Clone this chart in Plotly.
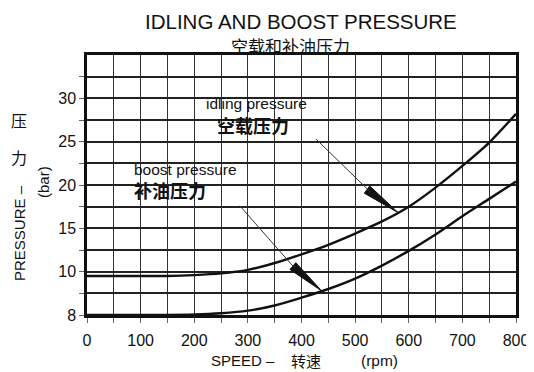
import numpy as np
import plotly.graph_objects as go

# ---------------- data ----------------
speed_rpm = [0, 50, 100, 150, 200, 250, 300, 350, 400, 450, 500, 550, 600, 650, 700, 750, 800]
idling_bar = [9.5, 9.5, 9.5, 9.5, 9.6, 9.8, 10.2, 11.0, 12.0, 13.1, 14.4, 15.8, 17.5, 19.7, 22.2, 24.9, 28.2]
boost_bar = [5.0, 5.0, 5.0, 5.0, 5.05, 5.2, 5.5, 6.1, 7.0, 8.0, 9.2, 10.7, 12.4, 14.3, 16.4, 18.4, 20.4]

x_tickvals = [0, 50, 100, 150, 200, 250, 300, 350, 400, 450, 500, 550, 600, 650, 700, 750, 800]
x_ticktext = ["0", "", "100", "", "200", "", "300", "", "400", "", "500", "", "600", "", "700", "", "800"]
y_tickvals = [5, 7.5, 10, 12.5, 15, 17.5, 20, 22.5, 25, 27.5, 30, 32.5]
y_ticktext = ["8", "", "10", "", "15", "", "20", "", "25", "", "30", ""]

# ---------------- layout constants ----------------
# the page body adds an 8px offset, so the figure is drawn 8px smaller and
# all window-pixel positions below are converted with that offset.
OFF = 8
WIN_W, WIN_H = 534, 372
W, H = WIN_W - OFF, WIN_H - OFF
PL, PR, PT, PB = 87, 516, 55, 315          # plot box in window pixels
ML, MR, MT, MB = PL - OFF, WIN_W - PR, PT - OFF, WIN_H - PB
PW, PH = PR - PL, PB - PT

def px_x(p):  # window pixel -> paper
    return (p - PL) / PW

def px_y(p):
    return (PB - p) / PH

SANS = "Liberation Sans, Arial, Helvetica, sans-serif"
CJK = "Noto Sans CJK SC, sans-serif"
INK = "#111"

fig = go.Figure()
fig.add_trace(go.Scatter(x=speed_rpm, y=idling_bar, mode="lines", line=dict(color=INK, width=2.4, shape="spline", smoothing=0.8), hoverinfo="skip", showlegend=False))
fig.add_trace(go.Scatter(x=speed_rpm, y=boost_bar, mode="lines", line=dict(color=INK, width=2.4, shape="spline", smoothing=0.8), hoverinfo="skip", showlegend=False))

# arrow tips on the curves
idle_tip_x = 580
idle_tip_y = float(np.interp(idle_tip_x, speed_rpm, idling_bar))
boost_tip_x = 438
boost_tip_y = float(np.interp(boost_tip_x, speed_rpm, boost_bar))

def wedge(tx, ty, dx, dy, half=4.5):
    # dx, dy: pixel vector from tip back to base (screen coords, y down)
    L = (dx * dx + dy * dy) ** 0.5
    nx, ny = -dy / L * half, dx / L * half
    bx1, by1 = dx + nx, dy + ny
    bx2, by2 = dx - nx, dy - ny
    path = f"M 0,0 L {bx1:.1f},{-by1:.1f} L {bx2:.1f},{-by2:.1f} Z"
    return dict(type="path", xref="x", yref="y", xsizemode="pixel", ysizemode="pixel",
                xanchor=tx, yanchor=ty, path=path, fillcolor=INK, line=dict(color=INK, width=1))

shapes = [wedge(idle_tip_x, idle_tip_y, -31, -23), wedge(boost_tip_x, boost_tip_y, -29, -25)]
# thin leader lines (data coords)
shapes.append(dict(type="line", xref="x", yref="y", x0=427, y0=25.3, x1=idle_tip_x - 52, y1=idle_tip_y + 2.4,
                   line=dict(color="#333", width=1)))
shapes.append(dict(type="line", xref="x", yref="y", x0=285, y0=17.6, x1=boost_tip_x - 50, y1=boost_tip_y + 2.6,
                   line=dict(color="#333", width=1)))

def note(text, xp, yp, size, family=SANS, anchor="center", angle=0):
    return dict(text=text, x=px_x(xp), y=px_y(yp), xref="paper", yref="paper", showarrow=False,
                textangle=angle, font=dict(family=family, size=size, color=INK),
                xanchor=anchor, yanchor="middle")

annotations = [
    note("IDLING AND BOOST PRESSURE", 301, 21, 20.5),
    note("空载和补油压力", 290, 45.5, 17, CJK),
    note("idling pressure", 256, 103.5, 15.5),
    note("<b>空载压力</b>", 253, 124.5, 18, CJK),
    note("boost pressure", 132, 169, 15.5, anchor="left"),
    note("<b>补油压力</b>", 132, 190, 18, CJK, anchor="left"),
    # x axis title
    note("SPEED –", 209, 360.5, 15, anchor="left"),
    note("转速", 289, 360.5, 15, CJK, anchor="left"),
    note("(rpm)", 359, 360.5, 15.5, anchor="left"),
    # y axis title pieces
    note("PRESSURE –", 19, 233, 15, angle=-90),
    note("压", 19, 120, 16, CJK),
    note("力", 19, 157, 16, CJK),
    note("(bar)", 43, 182, 15, angle=-90),
]

fig.update_layout(
    width=W, height=H, margin=dict(l=ML, r=MR, t=MT, b=MB, autoexpand=False),
    paper_bgcolor="white", plot_bgcolor="white",
    shapes=shapes, annotations=annotations, showlegend=False,
    font=dict(family=SANS, size=14, color=INK),
)
fig.update_xaxes(range=[0, 800], tickvals=x_tickvals, ticktext=x_ticktext, showgrid=True,
                 gridcolor="#333", gridwidth=1.3, zeroline=False, automargin=False,
                 showline=True, mirror=True, linecolor=INK, linewidth=2.5,
                 ticks="outside", ticklen=5, tickcolor="#666", tickwidth=1,
                 ticklabelstandoff=4, tickfont=dict(family=SANS, size=16, color=INK))
fig.update_yaxes(range=[5, 35], tickvals=y_tickvals, ticktext=y_ticktext, showgrid=True,
                 gridcolor="#222", gridwidth=1.6, zeroline=False, automargin=False,
                 showline=True, mirror=True, linecolor=INK, linewidth=2.5,
                 ticks="outside", ticklen=5, tickcolor="#666", tickwidth=1,
                 ticklabelstandoff=0, tickfont=dict(family=SANS, size=16, color=INK))

fig.write_html("out.html")
